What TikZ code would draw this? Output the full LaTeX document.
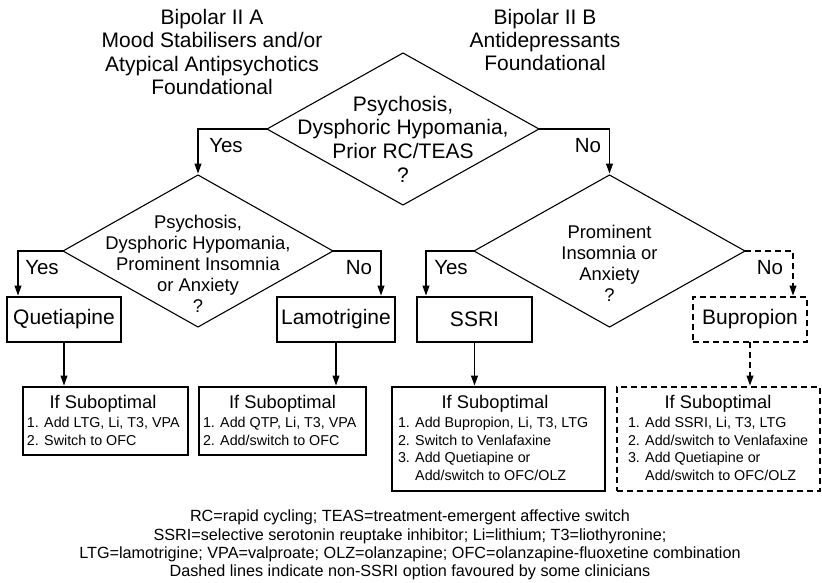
\documentclass[tikz,border=0pt]{standalone}
\usepackage{fontspec}
\setmainfont{Liberation Sans}
\usetikzlibrary{arrows.meta,shapes.geometric}
\begin{document}
\begin{tikzpicture}[x=1pt,y=-1pt,
  every node/.style={inner sep=0pt, outer sep=0pt},
  arr/.style={line width=1.1pt, -{Triangle[length=10pt,width=7pt]}, shorten >=1.5pt},
  dsh/.style={dash pattern=on 6pt off 4pt},
  decision/.style={diamond, draw, line width=1.1pt, minimum height=152pt},
  hd/.style={align=center, font=\fontsize{21}{23.3}\selectfont},
  dtop/.style={align=center, font=\fontsize{21}{23.6}\selectfont},
  dsub/.style={align=center, font=\fontsize{18.4}{20.9}\selectfont},
  lbl/.style={font=\fontsize{20.5}{24}\selectfont},
  drug/.style={draw, line width=1.1pt, minimum height=45pt, font=\fontsize{21}{24}\selectfont},
  sbox/.style={draw, line width=1.1pt},
  stitle/.style={anchor=base, font=\fontsize{18.3}{21}\selectfont},
  items/.style={anchor=north west, align=left, font=\fontsize{14.3}{17.5}\selectfont},
  foot/.style={align=center, font=\fontsize{16.2}{18.3}\selectfont}
]
\useasboundingbox (0,0) rectangle (822,582);

% headings
\node[hd] (hA) at (212,52) {Bipolar II A\\Mood Stabilisers and/or\\Atypical Antipsychotics\\Foundational};
\node[hd] (hB) at (545,40) {Bipolar II B\\Antidepressants\\Foundational};

% decisions
\node[decision, minimum width=272pt] (d1) at (403,129) {};
\node[dtop] (d1t) at (403,139) {Psychosis,\\Dysphoric Hypomania,\\Prior RC/TEAS\\?};
\node[decision, minimum width=270pt] (d2) at (198,251) {};
\node[dsub] (d2t) at (198,264) {Psychosis,\\Dysphoric Hypomania,\\Prominent Insomnia\\or Anxiety\\?};
\node[decision, minimum width=271pt] (d3) at (609.5,251) {};
\node[dsub] (d3t) at (609.5,263.5) {Prominent\\Insomnia or\\Anxiety\\?};

% drug boxes
\node[drug, minimum width=114pt] (q) at (64,319.5) {Quetiapine};
\node[drug, minimum width=118pt] (l) at (336,319.5) {Lamotrigine};
\node[drug, minimum width=115pt] (s) at (474.5,319.5) {SSRI};
\node[drug, dsh, minimum width=114pt] (b) at (750,319.5) {Bupropion};

% suboptimal boxes
\node[sbox, minimum width=165pt, minimum height=68pt] (r1) at (105.5,421) {};
\node[stitle] (r1t) at (103,408.5) {If Suboptimal};
\node[items] (r1i) at (27,417.5) {1. Add LTG, Li, T3, VPA\\2. Switch to OFC};

\node[sbox, minimum width=167pt, minimum height=68pt] (r2) at (282.5,421) {};
\node[stitle] (r2t) at (282.5,408.5) {If Suboptimal};
\node[items] (r2i) at (203,417.5) {1. Add QTP, Li, T3, VPA\\2. Add/switch to OFC};

\node[sbox, minimum width=213pt, minimum height=104pt] (r3) at (498.5,439) {};
\node[stitle] (r3t) at (495,408.5) {If Suboptimal};
\node[items] (r3i) at (398,417.5) {1. Add Bupropion, Li, T3, LTG\\2. Switch to Venlafaxine\\3. Add Quetiapine or\\\phantom{3. }Add/switch to OFC/OLZ};

\node[sbox, dsh, minimum width=203pt, minimum height=104pt] (r4) at (718.5,439) {};
\node[stitle] (r4t) at (718,408.5) {If Suboptimal};
\node[items] (r4i) at (628,417.5) {1. Add SSRI, Li, T3, LTG\\2. Add/switch to Venlafaxine\\3. Add Quetiapine or\\\phantom{3. }Add/switch to OFC/OLZ};

% footnote
\node[foot] (fn) at (410,545) {RC=rapid cycling; TEAS=treatment-emergent affective switch\\SSRI=selective serotonin reuptake inhibitor; Li=lithium; T3=liothyronine;\\LTG=lamotrigine; VPA=valproate; OLZ=olanzapine; OFC=olanzapine-fluoxetine combination\\Dashed lines indicate non-SSRI option favoured by some clinicians};

% connectors
\draw[arr] (d1.west) -| (d2.north);
\draw[arr] (d1.east) -| (d3.north);
\draw[arr] (d2.west) -| ([xshift=11pt]q.north west);
\draw[arr] (d2.east) -| ([xshift=-14pt]l.north east);
\draw[arr] (d3.west) -| ([xshift=9pt]s.north west);
\draw[arr,dsh] (d3.east) -| ([xshift=-14pt]b.north east);
\draw[arr] (q.south) -- (q.south |- r1.north);
\draw[arr] (l.south) -- (l.south |- r2.north);
\draw[arr] (s.south) -- (s.south |- r3.north);
\draw[arr,dsh] (b.south) -- (b.south |- r4.north);

% labels
\node[lbl] (y1) at (226,146) {Yes};
\node[lbl] (n1) at (588,146) {No};
\node[lbl] (y2) at (42,268) {Yes};
\node[lbl] (n2) at (359,268) {No};
\node[lbl] (y3) at (451,268) {Yes};
\node[lbl] (n3) at (770,268) {No};
\end{tikzpicture}
\end{document}
